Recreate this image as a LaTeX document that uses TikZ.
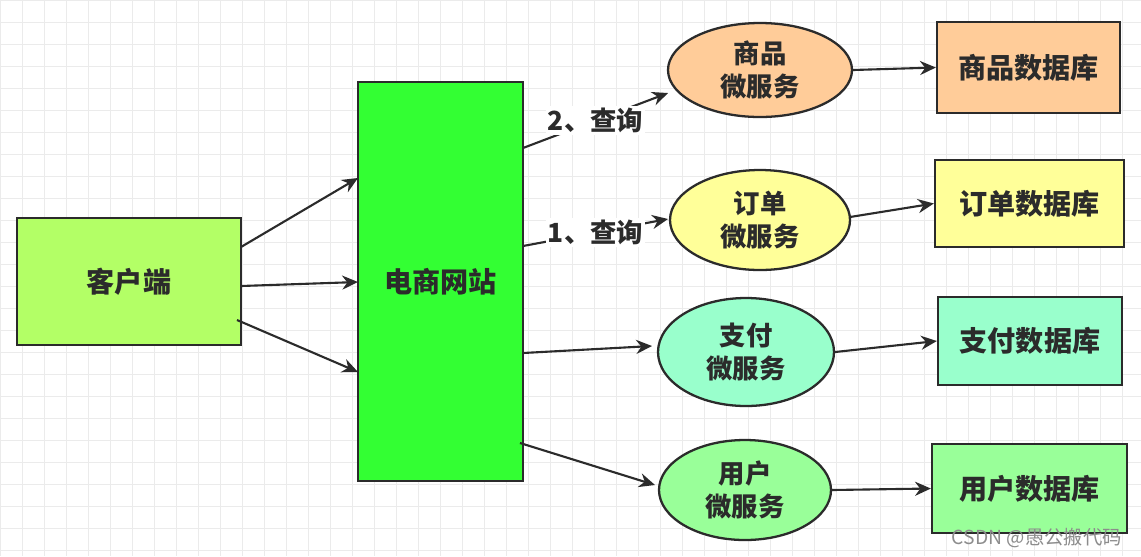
\documentclass[tikz,border=0pt]{standalone}
\usepackage{fontspec}
\newfontfamily\cjk{Noto Sans CJK SC}
\usetikzlibrary{arrows.meta,shapes.geometric}
\definecolor{cli}{HTML}{B3FF66}
\definecolor{site}{HTML}{33FF33}
\definecolor{c1}{HTML}{FFCC99}
\definecolor{c2}{HTML}{FFFF99}
\definecolor{c3}{HTML}{99FFCC}
\definecolor{c4}{HTML}{99FF99}
\definecolor{ink}{HTML}{2B2B2B}
\tikzset{
 box/.style={draw=ink,line width=1.3pt,font=\cjk\bfseries\fontsize{16}{18}\selectfont,text=ink},
 svc/.style={draw=ink,line width=1.3pt,ellipse,font=\cjk\bfseries\fontsize{15}{19}\selectfont,align=center,text=ink,inner sep=0pt},
 arr/.style={draw=ink,line width=1.2pt,-{Stealth[length=9pt,width=8pt]}},
 lab/.style={font=\cjk\bfseries\fontsize{15}{18}\selectfont,text=ink,fill=white,inner sep=1pt}
}
\begin{document}
\begin{tikzpicture}[x=0.02cm,y=-0.02cm]
\useasboundingbox (0,0) rectangle (1141,556);
\fill[white] (0,0) rectangle (1141,556);
\foreach \i in {0,22,...,1141} \draw[black!8,line width=0.4pt] (\i,0)--(\i,556);
\foreach \j in {0,22,...,556} \draw[black!8,line width=0.4pt] (0,\j)--(1141,\j);
\node[box,fill=cli,minimum width=224*0.02cm,minimum height=127*0.02cm] (cl) at (129,281.5) {客户端};
\node[box,fill=site,minimum width=165*0.02cm,minimum height=399*0.02cm] (ws) at (440.5,281.5) {电商网站};
\node[svc,fill=c1,minimum width=184*0.02cm,minimum height=94*0.02cm] (s1) at (760,70) {商品\\微服务};
\node[svc,fill=c2,minimum width=180*0.02cm,minimum height=100*0.02cm] (s2) at (760,220) {订单\\微服务};
\node[svc,fill=c3,minimum width=176*0.02cm,minimum height=108*0.02cm] (s3) at (746,352) {支付\\微服务};
\node[svc,fill=c4,minimum width=172*0.02cm,minimum height=100*0.02cm] (s4) at (745,490) {用户\\微服务};
\node[box,fill=c1,minimum width=183*0.02cm,minimum height=91*0.02cm] (d1) at (1028.5,67.5) {商品数据库};
\node[box,fill=c2,minimum width=189*0.02cm,minimum height=87*0.02cm] (d2) at (1029.5,203.5) {订单数据库};
\node[box,fill=c3,minimum width=184*0.02cm,minimum height=88*0.02cm] (d3) at (1030,341) {支付数据库};
\node[box,fill=c4,minimum width=195*0.02cm,minimum height=89*0.02cm] (d4) at (1029.5,488.5) {用户数据库};
\coordinate (a1) at (241,247); \coordinate (a2) at (241,286); \coordinate (a3) at (237,320);
\coordinate (b1) at (358,178); \coordinate (b2) at (358,282); \coordinate (b3) at (358,372);
\draw[arr] (a1)--(b1); \draw[arr] (a2)--(b2); \draw[arr] (a3)--(b3);
\coordinate (w1) at (523,148); \coordinate (w2) at (523,246); \coordinate (w3) at (523,353); \coordinate (w4) at (520,443);
\coordinate (e1) at (668,93); \coordinate (e2) at (668,219); \coordinate (e3) at (652,346); \coordinate (e4) at (655,485);
\draw[arr] (w1)--(e1) node[lab,pos=0.5] (l1) {2、查询};
\draw[arr] (w2)--(e2) node[lab,pos=0.5] (l2) {1、查询};
\draw[arr] (w3)--(e3); \draw[arr] (w4)--(e4);
\draw[arr] (s1.east)--(d1.west);
\draw[arr] (850,217)--(d2.west);
\draw[arr] (s3.east)--(d3.west);
\draw[arr] (s4.east)--(d4.west);
\node[font=\cjk\fontsize{11}{13}\selectfont,text=black!45,anchor=east] (wm) at (1128,538) {CSDN @愚公搬代码};
\end{tikzpicture}
\end{document}
